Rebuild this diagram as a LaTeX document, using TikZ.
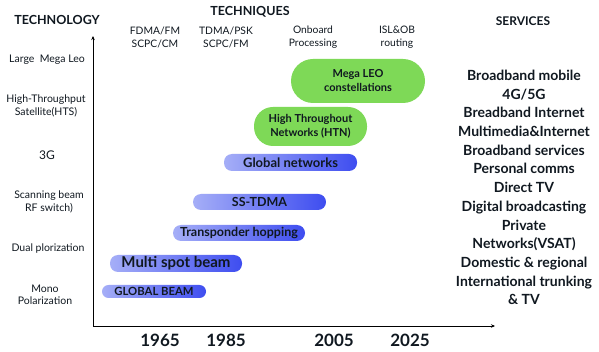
\documentclass[tikz,border=0pt]{standalone}
\usepackage{fontspec}
\setmainfont{Lato}
\usepackage{tikz}
\usetikzlibrary{arrows.meta}
\definecolor{barlight}{HTML}{A5AEF7}
\definecolor{bardark}{HTML}{3E4DF0}
\definecolor{leogreen}{HTML}{7ED957}
\definecolor{inkdark}{HTML}{101820}

\tikzset{
  head/.style={font=\bfseries\fontsize{12.5}{14}\selectfont, text=inkdark},
  level/.style={font=\fontsize{10.5}{12.5}\selectfont, align=center, text=inkdark},
  method/.style={font=\fontsize{10.3}{13}\selectfont, align=center, text=inkdark},
  year/.style={font=\bfseries\fontsize{17}{17}\selectfont, text=inkdark},
  era/.style={left color=barlight, right color=bardark, rounded corners=8pt,
    inner sep=0pt, text=inkdark},
  leo/.style={fill=leogreen, inner sep=0pt, align=center, text=inkdark,
    font=\bfseries\fontsize{11}{14}\selectfont}
}

\begin{document}
\begin{tikzpicture}[x=1pt,y=-1pt]
  \useasboundingbox[fill=white] (0,0) rectangle (599,352);

  % axes
  \coordinate (origin) at (93,326);
  \coordinate (ytop) at (93,36);
  \coordinate (xend) at (495,326);
  \draw[line width=0.9pt, -{Stealth[length=4pt,width=3.5pt]}] (origin) -- (ytop);
  \draw[line width=0.9pt, -{Stealth[length=4pt,width=3.5pt]}] (origin) -- (xend);

  \node[head] (technology) at (57,20) {TECHNOLOGY};
  \node[head] (techniques) at (250,12) {TECHNIQUES};
  \node[head, font=\bfseries\fontsize{12}{14}\selectfont] (services) at (523,21) {SERVICES};

  \node[method] (fdma) at (155,37) {FDMA/FM\\SCPC/CM};
  \node[method] (tdma) at (226,37) {TDMA/PSK\\SCPC/FM};
  \node[method] (onboard) at (313,37) {Onboard\\Processing};
  \node[method] (isl) at (397,37) {ISL\&OB\\routing};

  \node[level] (megaleo) at (47,60) {Large\ \ Mega Leo};
  \node[level] (hts) at (46,106) {High-Throughput\\Satellite(HTS)};
  \node[level, font=\fontsize{12}{14}\selectfont] (threeg) at (47,155) {3G};
  \node[level] (scanning) at (49,202) {Scanning beam\\RF switch)};
  \node[level] (dual) at (48,249) {Dual plorization};
  \node[level] (mono) at (45,295) {Mono\\Polarization};

  % blue bars, oldest at the bottom
  \node[era, minimum width=104pt, minimum height=13pt, rounded corners=6.5pt,
    font=\bfseries\fontsize{11.3}{12}\selectfont] (globalbeam) at (154,291.5) {GLOBAL BEAM};
  \node[era, minimum width=132pt, minimum height=17pt,
    font=\bfseries\fontsize{15}{16}\selectfont] (multispot) at (176,263.5) {Multi spot beam};
  \node[era, minimum width=132pt, minimum height=16pt,
    font=\bfseries\fontsize{12.5}{14}\selectfont] (hopping) at (239,233) {Transponder hopping};
  \node[era, minimum width=133pt, minimum height=16pt,
    font=\bfseries\fontsize{12.5}{14}\selectfont] (sstdma) at (259.5,202) {SS-TDMA};
  \node[era, minimum width=133pt, minimum height=17pt,
    font=\bfseries\fontsize{13}{14}\selectfont] (globalnet) at (290.5,162.5) {Global networks};

  % green blobs
  \node[leo, minimum width=113pt, minimum height=39pt, rounded corners=19pt]
    (htn) at (310.5,126.5) {High Throughout\\Networks (HTN)};
  \node[leo, minimum width=134pt, minimum height=44pt, rounded corners=22pt]
    (leoconst) at (358,81) {Mega LEO\\constellations};

  \node[year] (y1965) at (160,340) {1965};
  \node[year] (y1985) at (226,340) {1985};
  \node[year] (y2005) at (334,340) {2005};
  \node[year] (y2025) at (410,340) {2025};

  \node[align=center, text=inkdark, font=\bfseries\fontsize{14}{18.7}\selectfont]
    (servicelist) at (524,187.5)
    {Broadband mobile\\4G/5G\\Breadband Internet\\Multimedia\&Internet\\
     Broadband services\\Personal comms\\Direct TV\\Digital broadcasting\\
     Private\\Networks(VSAT)\\Domestic \& regional\\International trunking\\\& TV};
\end{tikzpicture}
\end{document}
